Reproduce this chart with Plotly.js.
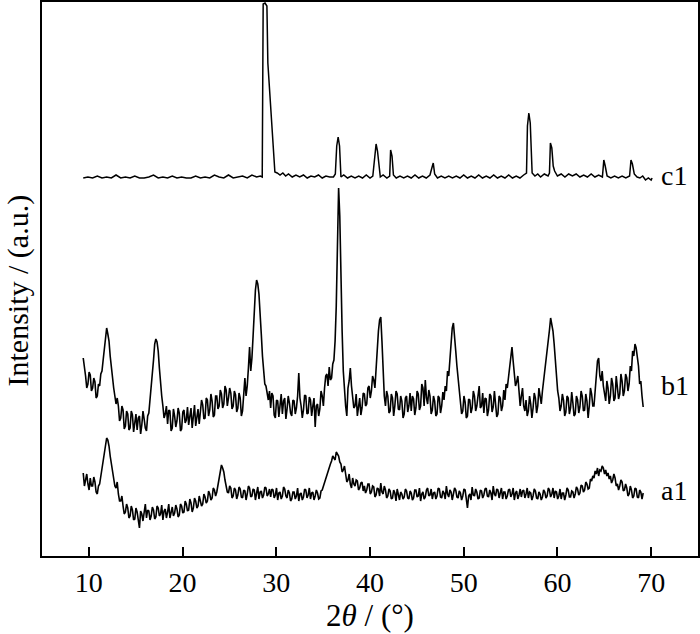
<!DOCTYPE html>
<html>
<head>
<meta charset="utf-8">
<script src="https://cdn.plot.ly/plotly-3.0.1.min.js"></script>
<style>html,body{margin:0;padding:0;background:#fff;}#chart{width:700px;height:634px;}</style>
</head>
<body>
<div id="chart"></div>
<script>
// Scan grid for a1 and b1: start angle and step (degrees 2θ)
const scanStart = 9.4;
const scanStep = 0.125;

// b1 intensities (a.u., stacking offset included)
const b1 = [
  198,185,180,168,172,184,181,165,168,178,174,158,160,172,170,182,185,196,205,215,
  228,222,215,200,188,176,168,160,152,158,150,135,138,150,146,127,130,145,142,126,
  128,145,141,124,133,142,126,138,140,122,131,145,137,128,125,140,143,155,168,185,
  196,212,217,214,205,188,170,160,150,138,142,150,132,146,145,125,128,147,140,129,
  135,148,143,125,127,144,146,133,136,149,131,140,148,128,138,151,130,142,147,132,
  142,156,151,137,138,158,156,140,146,162,155,139,141,160,160,147,150,166,162,148,
  152,170,166,150,158,168,163,147,150,165,161,144,148,163,158,140,145,165,178,160,
  170,188,209,185,198,220,245,266,276,272,262,245,222,200,185,172,170,160,156,165,
  148,163,160,141,138,156,155,139,150,162,142,155,158,137,147,160,153,143,140,156,
  155,142,148,160,183,158,150,138,146,161,160,142,143,159,156,140,150,158,129,150,
  152,140,147,165,160,150,168,180,182,170,189,176,178,192,196,215,250,320,368,340,
  262,225,185,160,150,140,168,175,188,170,160,148,150,162,140,152,158,141,148,163,
  162,150,152,168,170,158,165,180,176,168,190,205,225,236,239,215,180,160,150,165,
  160,143,145,162,158,140,150,165,162,147,146,160,155,138,142,158,160,144,150,163,
  145,160,157,141,148,165,162,146,150,172,168,150,176,158,152,166,160,142,146,160,
  155,140,142,160,158,143,150,164,156,170,165,185,180,195,212,228,233,222,205,190,
  178,165,158,142,145,160,154,138,140,157,156,143,148,165,160,145,150,162,170,148,
  150,163,143,158,157,140,146,162,160,144,149,165,155,139,142,160,158,145,150,166,
  156,172,168,180,185,200,209,195,185,170,174,180,165,150,160,168,150,145,156,140,
  145,160,152,138,148,163,158,143,150,168,160,152,165,175,182,195,205,215,226,238,
  233,225,212,195,180,165,158,145,150,162,156,140,144,160,158,142,148,164,153,140,
  142,160,156,143,149,165,160,145,146,162,155,138,150,168,162,150,150,165,180,195,
  198,180,175,185,170,160,155,175,168,152,160,178,172,155,158,180,170,157,162,182,
  175,160,165,182,178,165,172,190,185,205,200,212,208,198,190,172,175,160,149
];

// a1 intensities (a.u.)
const a1 = [
  83,70,76,82,72,66,78,70,70,79,74,64,62,70,72,80,88,98,105,112,
  118,116,110,100,92,84,78,70,68,74,62,55,55,60,50,42,44,52,48,38,
  40,50,46,36,37,48,44,34,28,45,42,35,47,52,38,46,45,36,40,49,
  46,37,39,50,48,40,42,51,36,45,47,38,44,52,38,46,49,40,43,51,
  47,39,41,52,50,43,44,55,52,45,46,57,53,44,48,58,55,48,50,60,
  56,50,52,62,59,53,55,65,62,56,58,68,66,60,64,72,78,86,91,88,
  84,76,70,64,63,70,68,58,60,68,66,57,61,69,67,59,58,66,65,56,
  62,70,68,59,60,67,66,56,63,69,57,64,65,58,61,69,68,60,62,67,
  59,67,66,58,61,68,56,63,64,57,60,69,67,60,58,66,63,55,57,64,
  64,57,60,68,55,62,63,56,59,67,66,58,61,68,57,63,64,56,60,66,
  63,57,58,65,66,70,72,78,80,85,88,92,95,100,98,96,104,102,100,94,
  92,84,86,90,80,74,76,82,72,68,78,72,70,76,75,66,68,73,74,65,
  70,63,66,72,72,62,64,70,69,59,61,68,67,60,73,64,62,70,66,58,
  60,67,65,57,58,66,63,55,67,61,56,64,62,57,59,67,65,58,57,65,
  63,56,58,66,66,59,60,68,55,62,64,57,59,66,68,60,61,67,57,63,
  64,57,60,68,67,59,58,65,63,57,70,62,59,66,64,56,61,68,66,59,
  58,65,63,56,60,67,66,58,48,60,62,56,69,61,60,67,64,57,58,66,
  65,58,61,67,68,60,59,66,63,56,70,62,60,67,66,58,62,68,57,64,
  64,57,60,66,67,59,62,68,56,63,65,57,61,67,59,65,66,58,62,68,
  58,64,63,56,60,67,65,58,57,64,62,56,59,66,64,58,60,68,66,59,
  62,68,58,65,64,57,60,67,57,63,63,56,61,68,66,59,59,65,64,58,
  62,69,67,61,63,71,70,64,66,74,72,67,68,77,75,80,78,85,82,88,
  80,86,85,90,88,82,86,80,83,77,80,73,76,82,78,70,72,66,70,76,
  74,65,66,72,68,60,62,70,66,58,60,68,67,59,58,66,64,57,63
];

// c1 pattern: angles and intensities (a.u.)
const c1X = [
  9.4,9.9,10.4,10.9,11.4,11.9,12.4,12.9,13.4,13.9,14.4,14.9,15.4,15.9,16.4,16.9,17.4,17.9,18.4,18.9,
  19.4,19.9,20.4,20.9,21.4,21.9,22.4,22.9,23.4,23.9,24.4,24.9,25.4,25.9,26.4,26.9,27.4,27.9,28.3,28.5,
  28.6,28.8,29.0,29.1,29.35,29.6,29.85,30.1,30.4,30.7,31.0,31.3,31.7,32.1,32.5,32.9,33.3,33.7,34.1,34.5,
  34.9,35.3,35.7,36.1,36.3,36.45,36.6,36.75,36.9,37.2,37.6,38.0,38.4,38.8,39.2,39.6,40.0,40.3,40.5,40.65,
  40.8,40.95,41.1,41.4,41.8,42.1,42.2,42.35,42.5,42.8,43.2,43.6,44.0,44.4,44.8,45.2,45.6,46.0,46.4,46.6,
  46.75,46.9,47.2,47.6,48.0,48.4,48.8,49.2,49.6,50.0,50.4,50.8,51.2,51.6,52.0,52.4,52.8,53.2,53.6,54.0,
  54.4,54.8,55.2,55.6,56.0,56.4,56.7,56.8,56.95,57.1,57.2,57.3,57.6,57.9,58.2,58.6,59.0,59.15,59.25,59.4,
  59.55,59.7,60.0,60.4,60.8,61.2,61.6,62.0,62.4,62.8,63.2,63.6,64.0,64.4,64.8,64.95,65.1,65.3,65.7,66.1,
  66.5,66.9,67.3,67.7,67.85,68.0,68.2,68.5,68.8,69.1,69.4,69.7,70.0,70.1
];
const c1Y = [
  378,379,378,380,378,379,378,381,378,379,378,380,378,378,379,381,378,379,378,380,
  378,379,378,378,380,378,379,378,381,379,378,381,378,379,380,378,381,379,380,379,
  552,553,550,493,456,419,384,383,381,383,380,382,379,381,379,381,378,380,379,381,
  378,380,379,379,382,410,419,410,379,381,378,380,378,380,378,381,378,380,395,412,
  405,388,379,381,378,380,406,400,381,378,380,378,380,378,381,378,380,378,381,388,
  393,382,378,380,378,380,378,380,378,381,378,380,378,381,378,380,378,381,378,380,
  378,381,378,380,378,381,383,430,443,433,413,383,380,382,379,382,380,383,413,408,
  390,385,380,382,379,382,380,382,379,381,379,382,379,381,379,396,390,380,378,380,
  378,380,378,380,396,392,382,379,378,380,376,378,376,378
];

const seriesNames = ['a1','b1','c1'];
const labelY = [66, 171, 381];
const xTicks = [10,20,30,40,50,60,70];

const gridX = b1.map((_, i) => +(scanStart + i * scanStep).toFixed(3));

const noisyLine = {color: '#000', width: 1.6};
const traces = [
  {x: gridX, y: a1, type: 'scatter', mode: 'lines', line: noisyLine, name: seriesNames[0]},
  {x: gridX, y: b1, type: 'scatter', mode: 'lines', line: noisyLine, name: seriesNames[1]},
  {x: c1X, y: c1Y, type: 'scatter', mode: 'lines', line: {color: '#000', width: 1.5}, name: seriesNames[2]}
];

const fam = 'Liberation Serif, Times New Roman, serif';
const font = {family: fam, color: '#000', size: 28};
const titleFont = {family: fam, color: '#000', size: 30};

const layout = {
  width: 700, height: 634,
  margin: {l: 42, r: 2, t: 2, b: 78},
  paper_bgcolor: '#fff', plot_bgcolor: '#fff',
  showlegend: false,
  font: font,
  xaxis: {
    range: [5, 75], tickvals: xTicks, ticktext: xTicks.map(String),
    ticks: 'inside', ticklen: 9, tickwidth: 2, tickcolor: '#000',
    showline: true, linewidth: 2, linecolor: '#000', mirror: true,
    showgrid: false, zeroline: false,
    tickfont: font,
    title: {text: '2<i>θ</i> / (°)', font: {family: fam, color: '#000', size: 31}, standoff: 5}
  },
  yaxis: {
    range: [0, 554], showticklabels: false, ticks: '',
    showline: true, linewidth: 2, linecolor: '#000', mirror: true,
    showgrid: false, zeroline: false
  },
  annotations: seriesNames.map((n, i) => ({
    x: 70.8, y: labelY[i], xref: 'x', yref: 'y', text: n, showarrow: false,
    xanchor: 'left', yanchor: 'middle', font: font
  })).concat([{
    text: 'Intensity / (a.u.)', xref: 'paper', yref: 'paper',
    x: -0.036, y: 0.48, xanchor: 'center', yanchor: 'middle',
    textangle: -90, showarrow: false, font: titleFont, borderpad: 0
  }])
};

Plotly.newPlot('chart', traces, layout, {staticPlot: true});
</script>
</body>
</html>
